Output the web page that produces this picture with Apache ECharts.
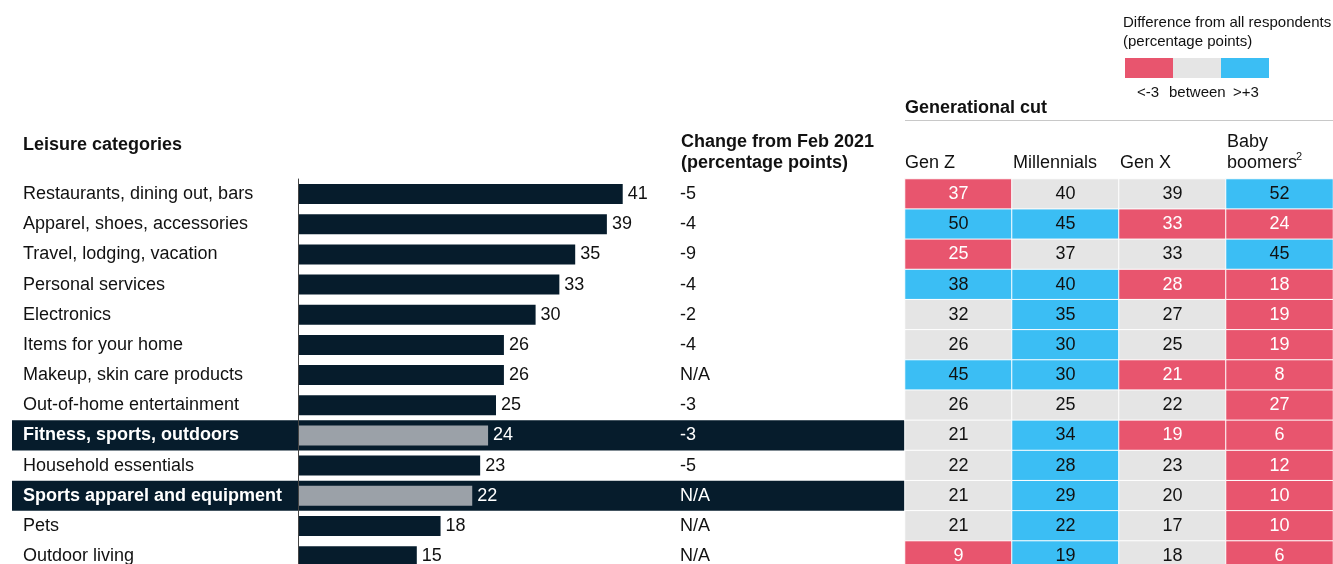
<!DOCTYPE html>
<html>
<head>
<meta charset="utf-8">
<title>Leisure categories</title>
<script src="https://cdn.jsdelivr.net/npm/echarts@6/dist/echarts.min.js"></script>
<style>
  html, body { margin: 0; padding: 0; background: #fff; }
  #chart { width: 1333px; height: 564px; }
</style>
</head>
<body>
<div id="chart"></div>
<script>
const categories = [
  'Restaurants, dining out, bars', 'Apparel, shoes, accessories', 'Travel, lodging, vacation',
  'Personal services', 'Electronics', 'Items for your home', 'Makeup, skin care products',
  'Out-of-home entertainment', 'Fitness, sports, outdoors', 'Household essentials',
  'Sports apparel and equipment', 'Pets', 'Outdoor living'
]
const shares = [41, 39, 35, 33, 30, 26, 26, 25, 24, 23, 22, 18, 15]
const changes = ['-5', '-4', '-9', '-4', '-2', '-4', 'N/A', '-3', '-3', '-5', 'N/A', 'N/A', 'N/A']
const highlighted = [0, 0, 0, 0, 0, 0, 0, 0, 1, 0, 1, 0, 0]

const generations = ['Gen Z', 'Millennials', 'Gen X', 'Baby boomers']
const genZ = [37, 50, 25, 38, 32, 26, 45, 26, 21, 22, 21, 21, 9]
const millennials = [40, 45, 37, 40, 35, 30, 30, 25, 34, 28, 29, 22, 19]
const genX = [39, 33, 33, 28, 27, 25, 21, 22, 19, 23, 20, 17, 18]
const boomers = [52, 24, 45, 18, 19, 19, 8, 27, 6, 12, 10, 10, 6]
// difference from all respondents: -1 = below -3, 0 = between, 1 = above +3
const genZClass = [-1, 1, -1, 1, 0, 0, 1, 0, 0, 0, 0, 0, -1]
const millennialsClass = [0, 1, 0, 1, 1, 1, 1, 0, 1, 1, 1, 1, 1]
const genXClass = [0, -1, 0, -1, 0, 0, -1, 0, -1, 0, 0, 0, 0]
const boomersClass = [1, -1, 1, -1, -1, -1, -1, -1, -1, -1, -1, -1, -1]

const NAVY = '#061c2c'
const PINK = '#e8556e'
const GREY = '#e5e5e5'
const BLUE = '#3bbef4'
const FONT = 'Liberation Sans, Arial, sans-serif'

const rowTop = 179
const rowH = 30.17
const gridH = rowH * categories.length

const genValues = [genZ, millennials, genX, boomers]
const genClasses = [genZClass, millennialsClass, genXClass, boomersClass]
const heatData = []
genValues.forEach((vals, c) => {
  vals.forEach((v, r) => {
    const cls = genClasses[c][r]
    heatData.push({
      value: [c, r, v, cls],
      label: { color: cls === -1 ? '#fff' : '#111' }
    })
  })
})

const barData = shares.map((v, i) => ({
  value: v,
  itemStyle: { color: highlighted[i] ? '#9ba1a8' : NAVY },
  label: { color: highlighted[i] ? '#fff' : '#111' }
}))

function txt(text, x, y, opts) {
  return {
    type: 'text',
    silent: true,
    style: Object.assign({
      text: text, x: x, y: y,
      font: '18px ' + FONT,
      fill: '#111',
      verticalAlign: 'middle',
      textVerticalAlign: 'middle'
    }, opts || {})
  }
}

const chart = echarts.init(document.getElementById('chart'))
chart.setOption({
  animation: false,
  textStyle: { fontFamily: FONT },
  grid: [
    { left: 12, top: rowTop, width: 893, height: gridH, outerBoundsMode: 'none' },
    { left: 298, top: rowTop, width: 45 * 7.92, height: gridH, outerBoundsMode: 'none' },
    { left: 905, top: rowTop, width: 428, height: gridH, outerBoundsMode: 'none' }
  ],
  xAxis: [
    { gridIndex: 0, type: 'value', min: 0, max: 1, show: false },
    { gridIndex: 1, type: 'value', min: 0, max: 45, show: false },
    { gridIndex: 2, type: 'category', data: generations, show: false }
  ],
  yAxis: [
    { gridIndex: 0, type: 'category', data: categories, inverse: true, show: false },
    {
      gridIndex: 1, type: 'category', data: categories, inverse: true, z: 10,
      axisLine: { show: true, lineStyle: { color: '#444', width: 1 } },
      axisTick: { show: false },
      axisLabel: {
        align: 'left', margin: 275,
        formatter: (v, i) => highlighted[i] ? '{h|' + v + '}' : '{n|' + v + '}',
        rich: {
          n: { fontSize: 18, color: '#111', fontFamily: FONT },
          h: { fontSize: 18, color: '#fff', fontWeight: 'bold', fontFamily: FONT }
        }
      }
    },
    {
      gridIndex: 1, type: 'category', data: categories, inverse: true, position: 'right', z: 10,
      axisLine: { show: false }, axisTick: { show: false },
      axisLabel: {
        align: 'left', margin: 25.6,
        formatter: (v, i) => highlighted[i] ? '{h|' + changes[i] + '}' : '{n|' + changes[i] + '}',
        rich: {
          n: { fontSize: 18, color: '#111', fontFamily: FONT },
          h: { fontSize: 18, color: '#fff', fontFamily: FONT }
        }
      }
    },
    { gridIndex: 2, type: 'category', data: categories, inverse: true, show: false }
  ],
  visualMap: {
    type: 'piecewise',
    seriesIndex: 2,
    dimension: 3,
    orient: 'horizontal',
    left: 1125, top: 58,
    padding: 0,
    itemWidth: 48, itemHeight: 20, itemGap: 0,
    itemSymbol: 'rect',
    showLabel: false,
    selectedMode: false,
    hoverLink: false,
    pieces: [
      { value: -1, color: PINK },
      { value: 0, color: GREY },
      { value: 1, color: BLUE }
    ]
  },
  series: [
    {
      type: 'bar', xAxisIndex: 0, yAxisIndex: 0, z: 1, silent: true,
      barCategoryGap: '0%',
      data: highlighted,
      itemStyle: { color: NAVY }
    },
    {
      type: 'bar', xAxisIndex: 1, yAxisIndex: 1, z: 3, silent: true,
      barWidth: 20,
      data: barData,
      label: { show: true, position: 'right', distance: 5, fontSize: 18, fontFamily: FONT }
    },
    {
      type: 'heatmap', xAxisIndex: 2, yAxisIndex: 3, silent: true,
      data: heatData,
      itemStyle: { borderColor: '#fff', borderWidth: 1 },
      label: { show: true, fontSize: 18, fontFamily: FONT, formatter: p => p.value[2] }
    }
  ],
  graphic: [
    txt('Difference from all respondents', 1123, 23, { font: '15px ' + FONT }),
    txt('(percentage points)', 1123, 42, { font: '15px ' + FONT }),
    txt('<-3', 1137, 93, { font: '15px ' + FONT }),
    txt('between', 1169, 93, { font: '15px ' + FONT }),
    txt('>+3', 1233, 93, { font: '15px ' + FONT }),
    txt('Generational cut', 905, 108, { font: 'bold 18px ' + FONT }),
    {
      type: 'line', silent: true,
      shape: { x1: 905, y1: 120.5, x2: 1333, y2: 120.5 },
      style: { stroke: '#c8c8c8', lineWidth: 1 }
    },
    txt('Leisure categories', 23, 145, { font: 'bold 18px ' + FONT }),
    txt('Change from Feb 2021', 681, 142, { font: 'bold 18px ' + FONT }),
    txt('(percentage points)', 681, 163, { font: 'bold 18px ' + FONT }),
    txt('Gen Z', 905, 163),
    txt('Millennials', 1013, 163),
    txt('Gen X', 1120, 163),
    txt('Baby', 1227, 142),
    txt('boomers', 1227, 163),
    txt('2', 1296, 157, { font: '11px ' + FONT })
  ]
})
</script>
</body>
</html>
